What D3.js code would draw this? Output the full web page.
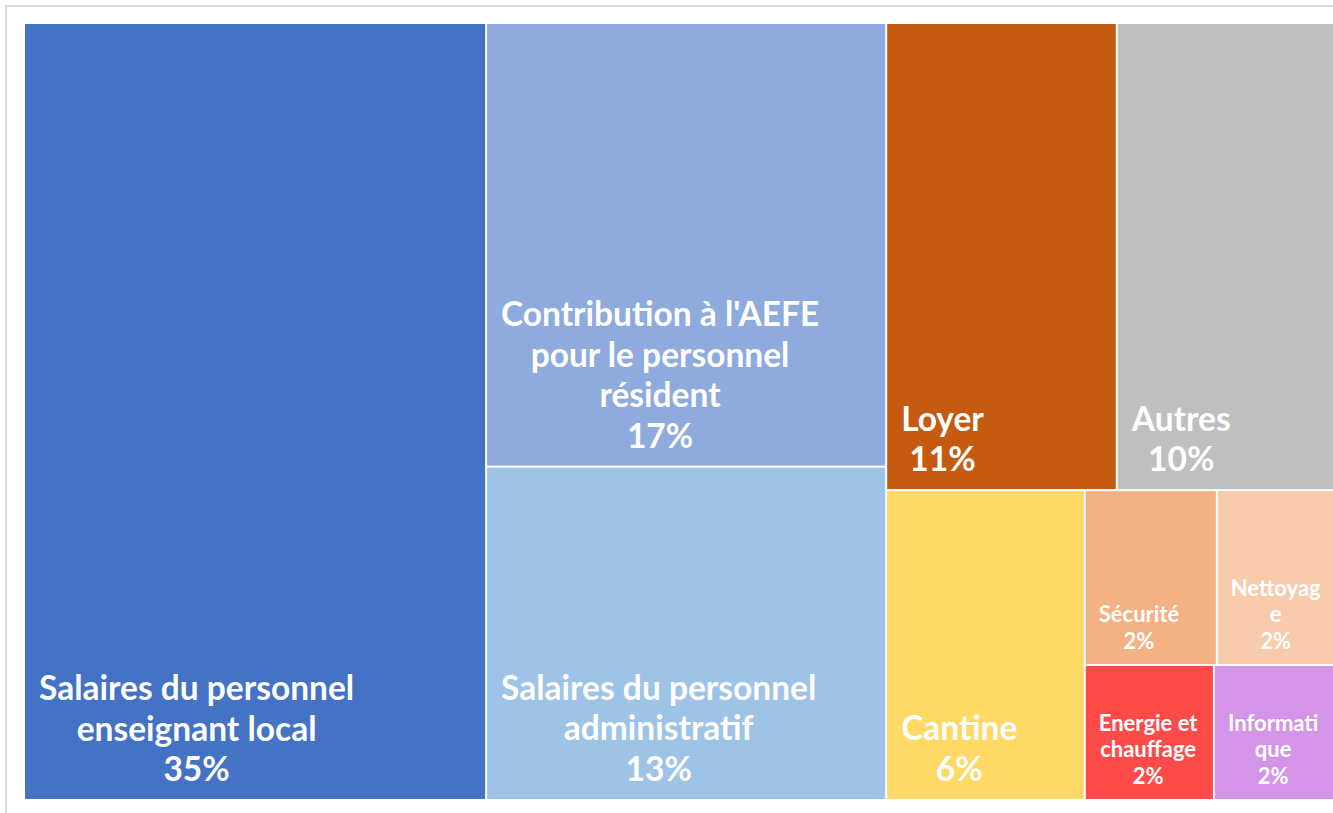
<!DOCTYPE html>
<html>
<head>
<meta charset="utf-8">
<script src="https://cdn.jsdelivr.net/npm/d3@7"></script>
<style>
  body { margin: 0; background: #fff; overflow: hidden; }
  svg { display: block; }
  .lbl { font-family: "Lato", "Open Sans", sans-serif; font-weight: bold; fill: #fff; }
</style>
</head>
<body>
<div id="chart"></div>
<script>
// budget shares (percent)
const categories = ['Salaires du personnel enseignant local', "Contribution à l'AEFE pour le personnel résident",
  'Salaires du personnel administratif', 'Loyer', 'Autres', 'Cantine', 'Sécurité', 'Nettoyage',
  'Energie et chauffage', 'Informatique']
const values = [35.0, 17.3, 13.0, 10.5, 10.3, 6.0, 2.25, 2.15, 1.7, 1.7]
// how Excel wrapped each label
const labelLines = [
  ['Salaires du personnel', 'enseignant local'],
  ["Contribution à l'AEFE", 'pour le personnel', 'résident'],
  ['Salaires du personnel', 'administratif'],
  ['Loyer'], ['Autres'], ['Cantine'], ['Sécurité'], ['Nettoyag', 'e'],
  ['Energie et', 'chauffage'], ['Informati', 'que']
]
const colors = ['#4472C4', '#8FAADC', '#9DC3E6', '#C55A11', '#BFBFBF', '#FFD966',
  '#F4B183', '#F8CBAD', '#FF4A4A', '#D494E8']

const width = 1333, height = 813

const svg = d3.select('#chart').append('svg')
  .attr('width', width)
  .attr('height', height)

// sheet frame
svg.append('path')
  .attr('d', 'M6,813V6H1333')
  .attr('fill', 'none')
  .attr('stroke', '#dcdcdc')
  .attr('stroke-width', 2)

const leaf = i => ({ name: categories[i], value: values[i], idx: i })

// nesting follows the excel layout: columns then rows
const tree = {
  dir: 'x', children: [
    leaf(0),
    { dir: 'y', children: [leaf(1), leaf(2)] },
    { dir: 'y', children: [
      { dir: 'x', children: [leaf(3), leaf(4)] },
      { dir: 'x', children: [leaf(5),
        { dir: 'y', children: [
          { dir: 'x', children: [leaf(6), leaf(7)] },
          { dir: 'x', children: [leaf(8), leaf(9)] }
        ] }
      ] }
    ] }
  ]
}

const root = d3.hierarchy(tree).sum(d => d.value || 0)
const total = root.value
const pct = d3.format('.0%')

function tile(node, x0, y0, x1, y1) {
  if (node.data.dir === 'x') d3.treemapDice(node, x0, y0, x1, y1)
  else d3.treemapSlice(node, x0, y0, x1, y1)
}

d3.treemap()
  .tile(tile)
  .size([1317, 775])
  .paddingInner(2)
  .round(false)(root)

const g = svg.append('g').attr('transform', 'translate(25,24)')

const cells = g.selectAll('g.cell')
  .data(root.leaves())
  .join('g')
  .attr('class', 'cell')
  .attr('transform', d => 'translate(' + d.x0 + ',' + d.y0 + ')')

cells.append('rect')
  .attr('width', d => d.x1 - d.x0)
  .attr('height', d => d.y1 - d.y0)
  .attr('fill', d => colors[d.data.idx])

cells.each(function(d) {
  const w = d.x1 - d.x0, h = d.y1 - d.y0
  const small = w < 150
  const fs = small ? 22 : 33.5
  const lh = small ? 26.5 : 40.5
  const lines = labelLines[d.data.idx].concat([pct(d.value / total)])
  const t = d3.select(this).append('text')
    .attr('class', 'lbl')
    .attr('font-size', fs)
  const spans = t.selectAll('tspan')
    .data(lines)
    .join('tspan')
    .text(s => s)
  let maxW = 0
  spans.each(function() { maxW = Math.max(maxW, this.getComputedTextLength()) })
  const left = small ? 13 : 14
  const cx = left + maxW / 2
  const lastY = h - (small ? 15 : 18)
  spans
    .attr('x', cx)
    .attr('text-anchor', 'middle')
    .attr('y', (s, i) => lastY - (lines.length - 1 - i) * lh)
})
</script>
</body>
</html>
